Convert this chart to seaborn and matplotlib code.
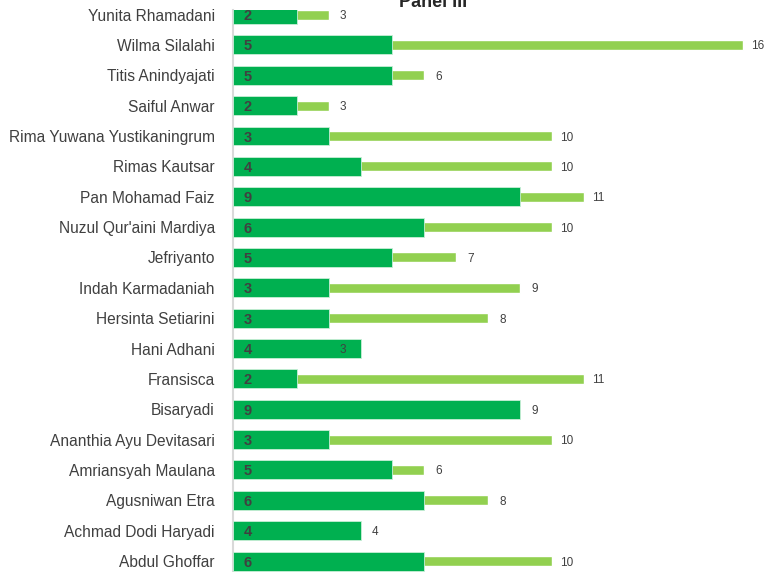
import numpy as np
import pandas as pd
import seaborn as sb
import matplotlib.pyplot as plt

names = ['Yunita Rhamadani', 'Wilma Silalahi', 'Titis Anindyajati', 'Saiful Anwar',
         'Rima Yuwana Yustikaningrum', 'Rimas Kautsar', 'Pan Mohamad Faiz',
         "Nuzul Qur'aini Mardiya", 'Jefriyanto', 'Indah Karmadaniah', 'Hersinta Setiarini',
         'Hani Adhani', 'Fransisca', 'Bisaryadi', 'Ananthia Ayu Devitasari',
         'Amriansyah Maulana', 'Agusniwan Etra', 'Achmad Dodi Haryadi', 'Abdul Ghoffar']
dark_vals = [2, 5, 5, 2, 3, 4, 9, 6, 5, 3, 3, 4, 2, 9, 3, 5, 6, 4, 6]
light_vals = [3, 16, 6, 3, 10, 10, 11, 10, 7, 9, 8, 3, 11, 9, 10, 6, 8, 4, 10]

data = pd.DataFrame({'name': names, 'dark': dark_vals, 'light': light_vals})

sb.set_style('white')
plt.rcParams['font.family'] = ['Liberation Sans', 'DejaVu Sans']

fig = plt.figure(figsize=(7.71, 5.72), dpi=100)
ax = fig.add_axes([233/771, 0, 538/771, 1 - 10/572])

sb.barplot(data=data, y='name', x='light', color='#92D050', width=0.33, saturation=1,
           orient='h', ax=ax, zorder=2)
sb.barplot(data=data, y='name', x='dark', color='#00B050', width=0.625, saturation=1,
           orient='h', ax=ax, zorder=3, edgecolor='#c8eed6', linewidth=0.6)

for i, row in data.iterrows():
    ax.text(0.47, i, str(row['dark']), va='center_baseline', ha='center', fontsize=10.5,
            fontweight='bold', color='#404040', zorder=5)
    ax.text(row['light'] + 0.45, i, str(row['light']), va='center_baseline', ha='center',
            fontsize=8.5, color='#404040', zorder=5)

ax.set_xlim(0, 538/31.9)
ax.set_ylim(18.36, -0.15)
ax.set_xlabel('')
ax.set_ylabel('')
ax.set_xticks([])
ax.tick_params(axis='y', length=0, pad=13, labelsize=11.2, labelcolor='#404040')
for s in ['top', 'right', 'bottom']:
    ax.spines[s].set_visible(False)
ax.spines['left'].set_color('#D9D9D9')
ax.spines['left'].set_linewidth(1.5)

fig.text(433/771, 1 - 7/572, 'Panel III', ha='center', va='baseline',
         fontsize=13, fontweight='bold', color='#262626')

plt.savefig('out.png', dpi=100)
